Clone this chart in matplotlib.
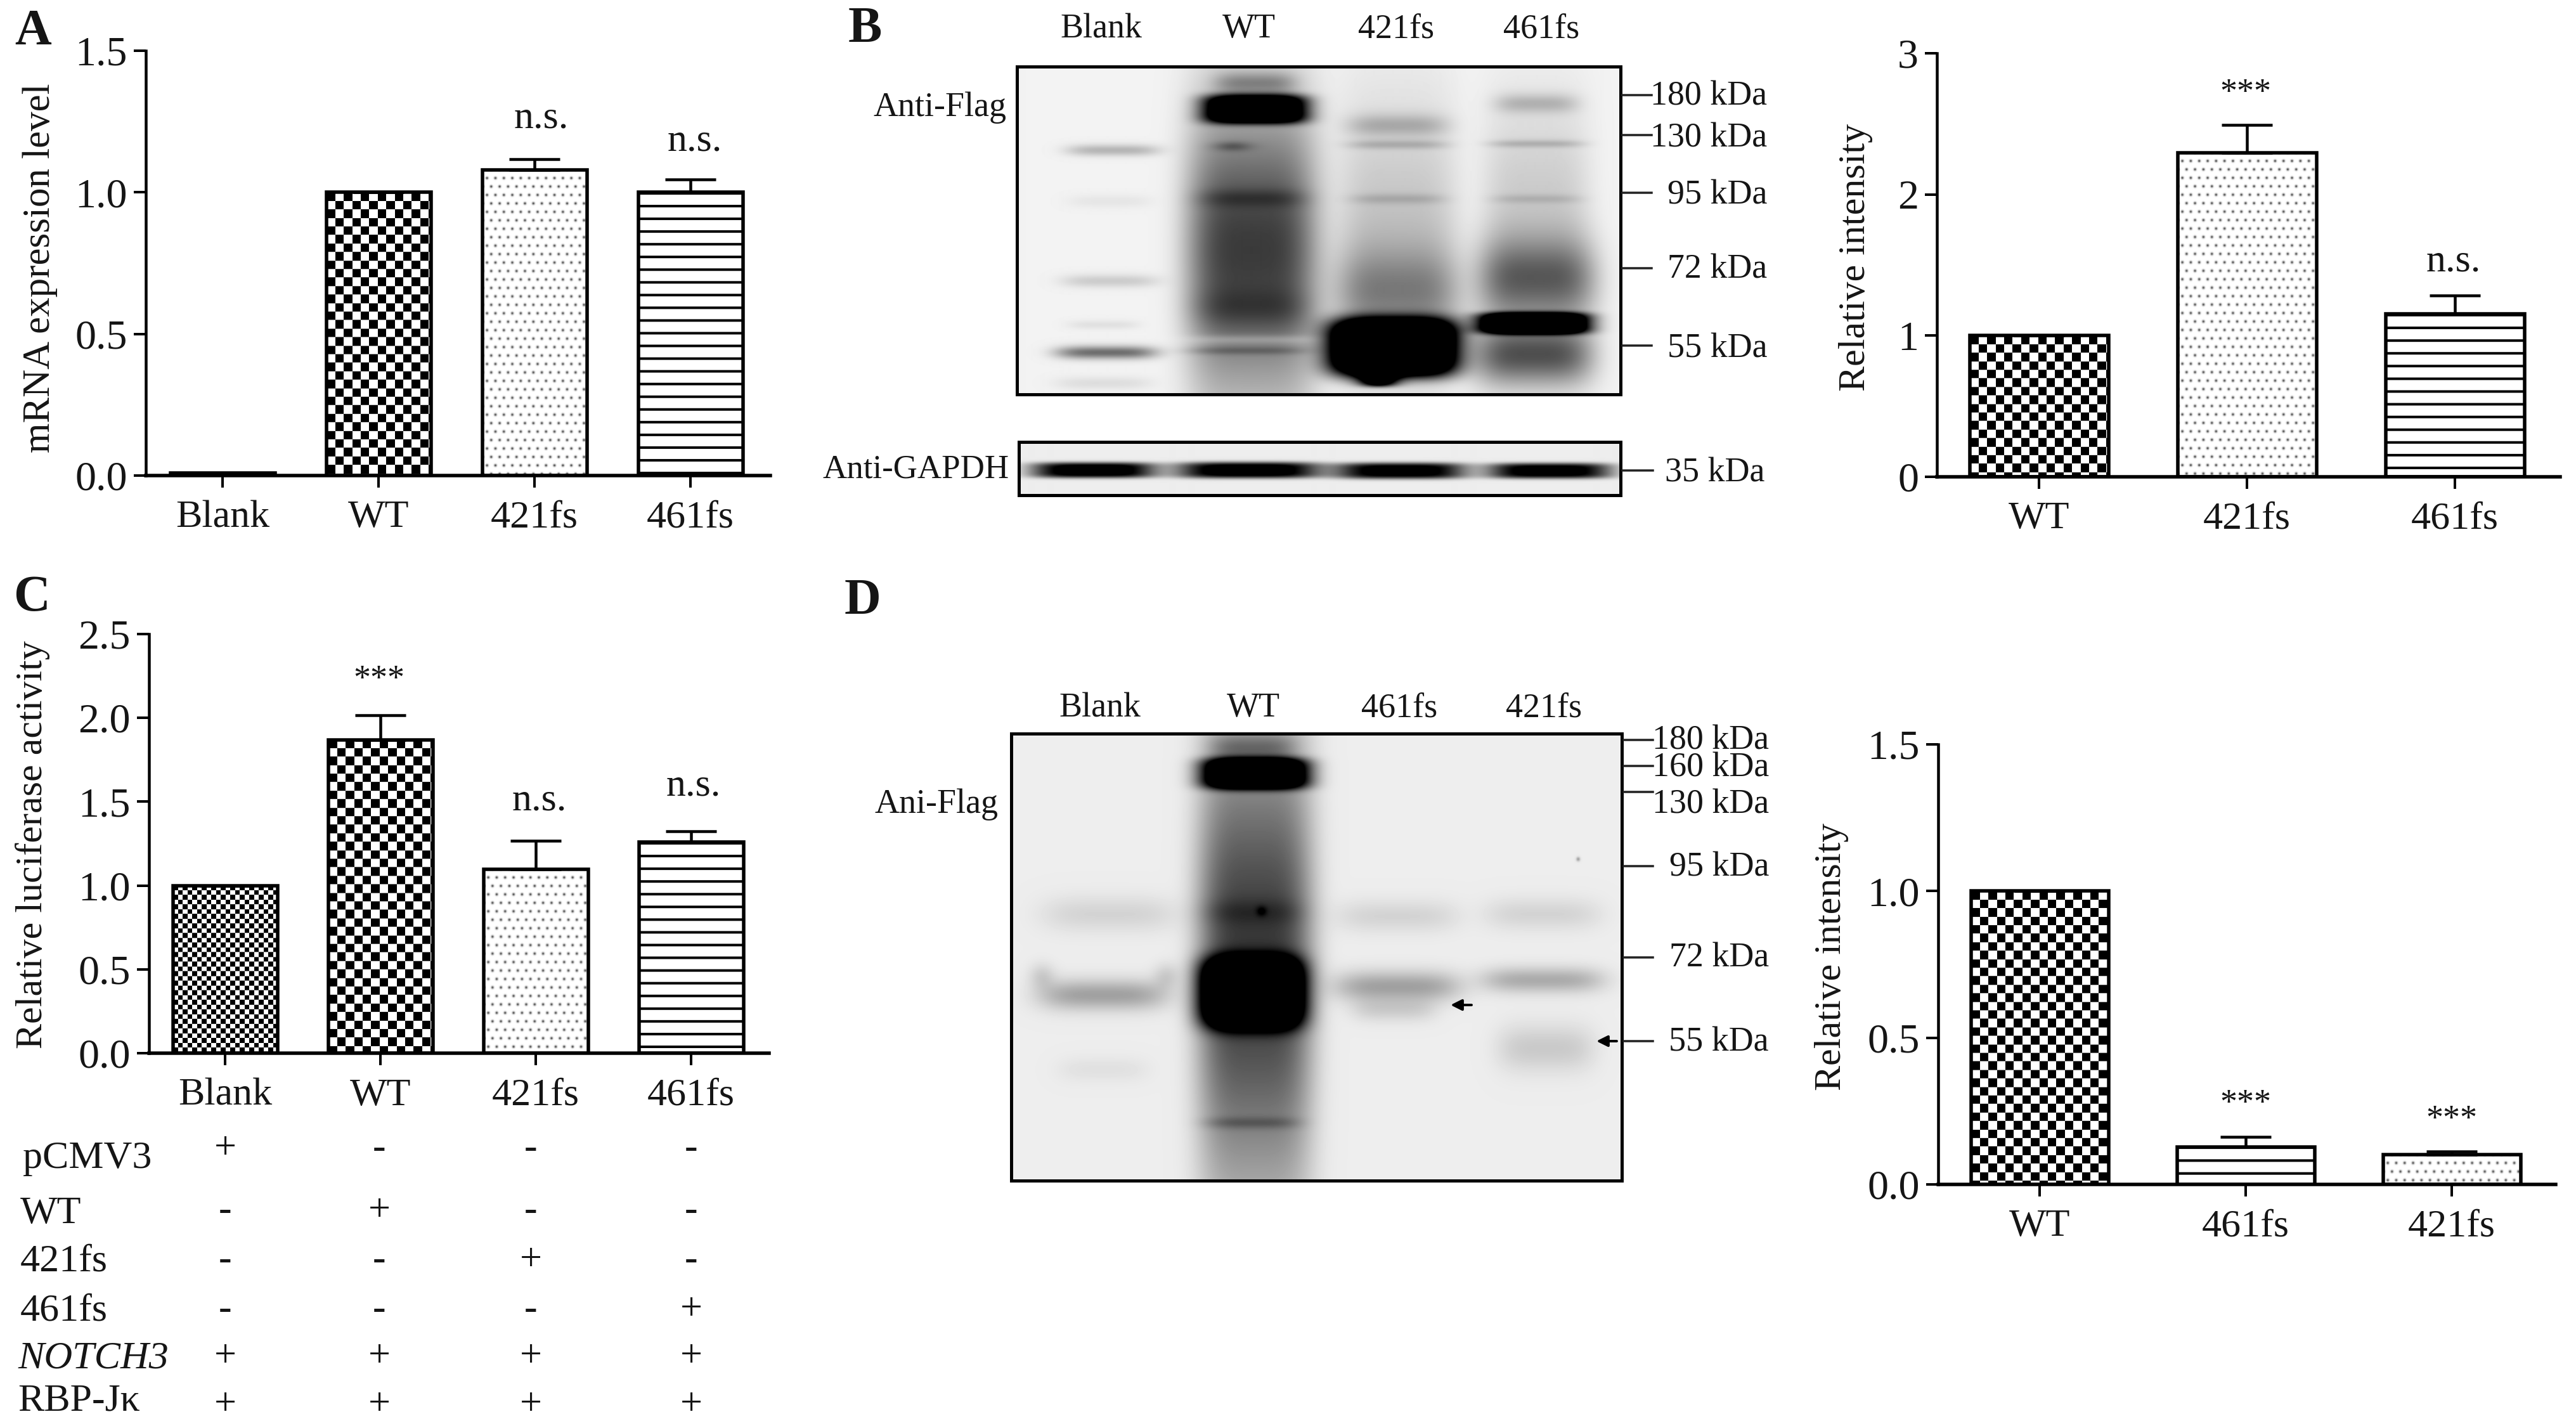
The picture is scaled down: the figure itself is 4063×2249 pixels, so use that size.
import numpy as np
import matplotlib
matplotlib.use('Agg')
import matplotlib.pyplot as plt
from matplotlib.lines import Line2D

plt.rcParams['font.family'] = ['Liberation Serif', 'DejaVu Serif']

W, H, DPI = 4063, 2249, 100
PT = 72 / DPI  # pixel -> points

# panel A
a_labels = ['Blank', 'WT', '421fs', '461fs']
a_values = [0.01, 1.0, 1.08, 1.0]
a_errs = [0, 0, 0.037, 0.045]
a_fills = ['solid', 'check', 'dots', 'lines']
a_ticks = [0, 0.5, 1.0, 1.5]
a_ticklabels = ['0.0', '0.5', '1.0', '1.5']

# panel B chart
b_labels = ['WT', '421fs', '461fs']
b_values = [1.0, 2.296, 1.153]
b_errs = [0, 0.195, 0.13]
b_fills = ['check', 'dots', 'lines']
b_ticks = [0, 1, 2, 3]
b_ticklabels = ['0', '1', '2', '3']

# panel C
c_labels = ['Blank', 'WT', '421fs', '461fs']
c_values = [1.0, 1.87, 1.097, 1.258]
c_errs = [0, 0.146, 0.171, 0.064]
c_fills = ['fine', 'check', 'dots', 'lines']
c_ticks = [0, 0.5, 1.0, 1.5, 2.0, 2.5]
c_ticklabels = ['0.0', '0.5', '1.0', '1.5', '2.0', '2.5']
table_rows = ['pCMV3', 'WT', '421fs', '461fs', 'NOTCH3', 'RBP-Jκ']
table_marks = [['+', '-', '-', '-'],
               ['-', '+', '-', '-'],
               ['-', '-', '+', '-'],
               ['-', '-', '-', '+'],
               ['+', '+', '+', '+'],
               ['+', '+', '+', '+']]

# panel D chart
d_labels = ['WT', '461fs', '421fs']
d_values = [1.0, 0.128, 0.102]
d_errs = [0, 0.034, 0.01]
d_fills = ['check', 'lines', 'dots']
d_ticks = [0, 0.5, 1.0, 1.5]
d_ticklabels = ['0.0', '0.5', '1.0', '1.5']

# blot bands: centre x, centre y, half width, half height, darkness
# (x and y are in units of the blot box, read from the crops)
flag_b_bands = [
    (495, 462, 72, 18, .24), (490, 865, 75, 20, .15), (485, 1085, 78, 20, .52),
    (480, 1000, 55, 14, .07), (490, 620, 65, 20, .05), (480, 1180, 75, 20, .08),
    (710, 770, 100, 430, .72), (715, 335, 80, 44, 1.5), (715, 255, 62, 34, .28),
    (680, 450, 30, 15, .2), (710, 610, 88, 28, .14), (710, 950, 95, 60, .14),
    (700, 1080, 95, 12, .14), (710, 1045, 95, 14, -.14),
    (935, 760, 92, 430, .2), (935, 385, 78, 34, .2), (935, 445, 78, 14, .16),
    (935, 612, 74, 16, .12), (935, 900, 98, 130, .3), (928, 1070, 98, 88, 2.2),
    (905, 1165, 28, 25, 1.2),
    (1150, 650, 82, 330, .16), (1150, 318, 64, 30, .2), (1150, 442, 74, 12, .16),
    (1150, 612, 70, 14, .1), (1150, 860, 92, 125, .5), (1145, 995, 84, 32, 1.8),
    (1145, 1095, 92, 92, .6),
]
gapdh_bands = [
    (465, 1445, 95, 24, 1.1), (705, 1445, 110, 25, 1.1),
    (940, 1447, 100, 25, 1.05), (1170, 1447, 95, 24, 1.05),
]
flag_d_bands = [
    (490, 805, 105, 42, .1), (480, 995, 100, 36, .3), (385, 950, 20, 30, .12),
    (578, 950, 20, 30, .12), (480, 1170, 70, 30, .05),
    (715, 920, 88, 530, .72), (715, 475, 82, 36, 1.6), (710, 990, 80, 82, 1.6),
    (710, 1295, 75, 14, .16), (710, 415, 65, 32, .25), (710, 800, 82, 30, .1),
    (725, 798, 8, 12, .2),
    (935, 810, 95, 38, .1), (935, 975, 98, 36, .3), (930, 1030, 65, 28, .12),
    (1160, 805, 90, 38, .1), (1160, 960, 95, 30, .26), (1165, 1120, 75, 55, .14),
    (1215, 676, 3, 5, .3),
]
b_kda = ['180 kDa', '130 kDa', '95 kDa', '72 kDa', '55 kDa']
d_kda = ['180 kDa', '160 kDa', '130 kDa', '95 kDa', '72 kDa', '55 kDa']

fig = plt.figure(figsize=(W / DPI, H / DPI), dpi=DPI, facecolor='white')


def put(x, y, s, size=62, ha='center', **kw):
    return fig.text(x / W, 1 - y / H, s, fontsize=size * PT, ha=ha, va='center', color='#151515', **kw)


def fill_image(kind, w, h):
    yy, xx = np.mgrid[0:max(h, 1), 0:max(w, 1)].astype(float)
    if kind == 'check' or kind == 'fine':
        c = 13.4 if kind == 'check' else 7.5
        return ((np.floor(yy / c) + np.floor(xx / c)) % 2).astype(float)
    if kind == 'dots':
        c = 13.3
        r = np.round(yy / c)
        dy = yy - r * c
        sx = xx - (r % 2) * c / 2
        dx = sx - np.round(sx / c) * c
        return 1 - .7 * np.exp(-(dx ** 2 + dy ** 2) / (2 * 1.5 ** 2))
    if kind == 'lines':
        return ((yy % 20) > 3.2).astype(float)
    return np.zeros_like(yy)


def bar_panel(box, c0, step, bar_w, top, labels, values, errs, fills, ticks, ticklabels):
    left, ytop, right, y0 = box
    ax = fig.add_axes([left / W, 1 - y0 / H, (right - left) / W, (y0 - ytop) / H])
    xlim = ((left - c0) / step, (right - c0) / step)
    xs = np.arange(len(labels))
    width = bar_w / step
    px_y = (y0 - ytop) / top
    for x, v, f in zip(xs, values, fills):
        img = fill_image(f, int(bar_w), int(v * px_y))
        ax.imshow(img, extent=(x - width / 2, x + width / 2, 0, v), cmap='gray', vmin=0, vmax=1,
                  aspect='auto', interpolation='bilinear', zorder=2)
    ax.bar(xs, values, width=width, facecolor='none', edgecolor='black', linewidth=5.5 * PT, zorder=3)
    ax.errorbar(xs, values, yerr=[[0] * len(errs), errs], fmt='none', ecolor='black',
                elinewidth=4.5 * PT, capsize=40 * PT, capthick=4.5 * PT, zorder=3)
    ax.set_xlim(xlim)
    ax.set_ylim(0, top)
    for s in ['top', 'right']:
        ax.spines[s].set_visible(False)
    ax.spines['left'].set_linewidth(4.5 * PT)
    ax.spines['bottom'].set_linewidth(5.5 * PT)
    ax.spines['bottom'].set_zorder(5)
    ax.set_xticks(xs)
    ax.set_xticklabels(labels, fontsize=62 * PT, color='#151515')
    ax.set_yticks(ticks)
    ax.set_yticklabels(ticklabels, fontsize=66 * PT, color='#151515')
    ax.tick_params(axis='x', length=19 * PT, width=4 * PT, pad=20 * PT)
    ax.tick_params(axis='y', length=19 * PT, width=4 * PT, pad=10 * PT)
    return ax


def blot(box, extent, bands, bg):
    left, ytop, right, ybot = box
    ax = fig.add_axes([left / W, 1 - ybot / H, (right - left) / W, (ybot - ytop) / H])
    nx, ny = right - left, ybot - ytop
    gx = np.linspace(extent[0], extent[1], nx)
    gy = np.linspace(extent[2], extent[3], ny)
    xx, yy = np.meshgrid(gx, gy)
    dark = np.zeros_like(xx)
    for cx, cy, sx, sy, d in bands:
        # wide bands are boxy across the lane and soft along it
        px = 4 if sx > 30 else 2
        py = 4 if d > 1 else 2
        dark += d * np.exp(-np.abs((xx - cx) / sx) ** px - np.abs((yy - cy) / sy) ** py)
    ax.imshow(np.clip(bg - dark, 0, 1), cmap='gray', vmin=0, vmax=1, aspect='auto', interpolation='bilinear')
    ax.set_xticks([])
    ax.set_yticks([])
    for s in ax.spines.values():
        s.set_linewidth(5 * PT)
    return ax


def kda_ticks(x0, x1, ys, labels, label_ys, right):
    for y, s, ly in zip(ys, labels, label_ys):
        fig.add_artist(Line2D([x0 / W, x1 / W], [1 - y / H, 1 - y / H], color='#222222', lw=3.5 * PT))
        put(right, ly, s, size=54, ha='right')


def arrow(x0, x1, y):
    fig.add_artist(matplotlib.patches.FancyArrowPatch(
        (x1 / W, 1 - y / H), (x0 / W, 1 - y / H), transform=fig.transFigure,
        arrowstyle='-|>', mutation_scale=26, color='black', lw=4 * PT, shrinkA=0, shrinkB=0))


# A
ax = bar_panel((230, 80, 1215, 750), 351, 246, 165, 1.5, a_labels, a_values, a_errs, a_fills, a_ticks, a_ticklabels)
ax.set_ylabel('mRNA expression level', fontsize=61 * PT, color='#151515')
ax.yaxis.set_label_coords(91 / W, 1 - 423 / H, transform=fig.transFigure)
put(854, 187, 'n.s.')
put(1096, 223, 'n.s.')
put(52, 50, 'A', size=80, fontweight='bold')

# B blots
put(1364, 46, 'B', size=80, fontweight='bold')
blot((1604, 105, 2556, 622), (347, 1280, 205, 1213), flag_b_bands, .95)
blot((1607, 697, 2556, 781), (350, 1280, 1358, 1522), gapdh_bands, .93)
for x, s in zip([1737, 1970, 2202, 2431], a_labels):
    put(x, 46, s, size=54)
put(1587, 170, 'Anti-Flag', size=54, ha='right')
put(1592, 741, 'Anti-GAPDH', size=53, ha='right')
kda_ticks(2559, 2605, [150, 213, 304, 423, 545], b_kda, [152, 218, 308, 425, 550], 2787)
kda_ticks(2559, 2607, [742], ['35 kDa'], [746], 2783)

# B chart
ax = bar_panel((3055, 84, 4038, 752), 3216, 328, 219, 3, b_labels, b_values, b_errs, b_fills, b_ticks, b_ticklabels)
ax.set_ylabel('Relative intensity', fontsize=60 * PT, color='#151515')
ax.yaxis.set_label_coords(2954 / W, 1 - 406 / H, transform=fig.transFigure)
put(3542, 148, '***', size=54)
put(3870, 413, 'n.s.')

# C
ax = bar_panel((235, 1000, 1213, 1661), 355, 245, 165, 2.5, c_labels, c_values, c_errs, c_fills, c_ticks, c_ticklabels)
ax.set_ylabel('Relative luciferase activity', fontsize=60 * PT, color='#151515')
ax.yaxis.set_label_coords(79 / W, 1 - 1332 / H, transform=fig.transFigure)
put(598, 1073, '***', size=54)
put(851, 1263, 'n.s.')
put(1094, 1240, 'n.s.')
put(50, 943, 'C', size=80, fontweight='bold')
row_ys = [1827, 1914, 1990, 2068, 2143, 2210]
mark_ys = [1812, 1910, 1988, 2066, 2140, 2216]
col_xs = [355, 598, 837, 1090]
row_xs = [36, 32, 32, 32, 28, 28]
for i, row in enumerate(table_rows):
    style = 'italic' if row == 'NOTCH3' else 'normal'
    put(row_xs[i], row_ys[i], row, ha='left', style=style)
    for x, m in zip(col_xs, table_marks[i]):
        put(x, mark_ys[i], m)

# D blot
put(1360, 948, 'D', size=80, fontweight='bold')
blot((1595, 1157, 2558, 1862), (338, 1282, 382, 1430), flag_d_bands, .93)
for x, s in zip([1735, 1977, 2207, 2435], ['Blank', 'WT', '461fs', '421fs']):
    put(x, 1117, s, size=54)
put(1574, 1269, 'Ani-Flag', size=54, ha='right')
kda_ticks(2561, 2607, [1167, 1208, 1249, 1366, 1510, 1642], d_kda,
          [1168, 1211, 1269, 1368, 1511, 1644], 2790)
arrow(2288, 2321, 1585)
arrow(2518, 2550, 1642)

# D chart
ax = bar_panel((3057, 1174, 4031, 1868), 3217, 325, 217, 1.5, d_labels, d_values, d_errs, d_fills, d_ticks, d_ticklabels)
ax.set_ylabel('Relative intensity', fontsize=60 * PT, color='#151515')
ax.yaxis.set_label_coords(2916 / W, 1 - 1509 / H, transform=fig.transFigure)
put(3542, 1742, '***', size=54)
put(3867, 1767, '***', size=54)

fig.savefig('out.png', dpi=DPI)
